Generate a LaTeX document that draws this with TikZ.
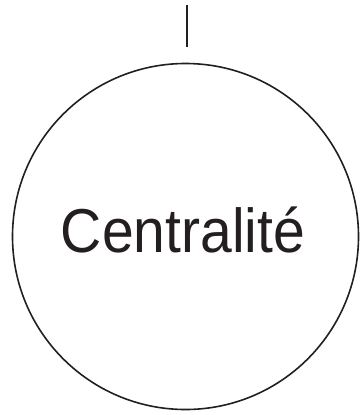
\documentclass[tikz,border=0pt]{standalone}
\usepackage{fontspec}
\setmainfont[FakeStretch=0.92]{Liberation Sans}
\usepackage{xcolor}
\definecolor{inkdark}{HTML}{231F20}
\usetikzlibrary{positioning}

\begin{document}
\begin{tikzpicture}[
  x=1pt, y=-1pt,
  ring/.style={
    circle,
    draw=inkdark,
    line width=1.6pt,
    minimum size=346pt,
    inner sep=0pt
  },
  title/.style={
    font=\fontsize{62}{70}\selectfont,
    text=inkdark,
    inner sep=0pt
  },
  stem/.style={
    draw=inkdark,
    line width=1.5pt
  }
]
\useasboundingbox (0,0) rectangle (360,415);

% Circle
\node[ring] (centre) at (185.5,236.5) {};

% Label
\node[title] (label) at (183,230) {Centralité};

% Stem above the circle
\coordinate (stemtop) at (187,5);
\coordinate (stembot) at (187,47);
\draw[stem] (stemtop) -- (stembot);

\end{tikzpicture}
\end{document}
